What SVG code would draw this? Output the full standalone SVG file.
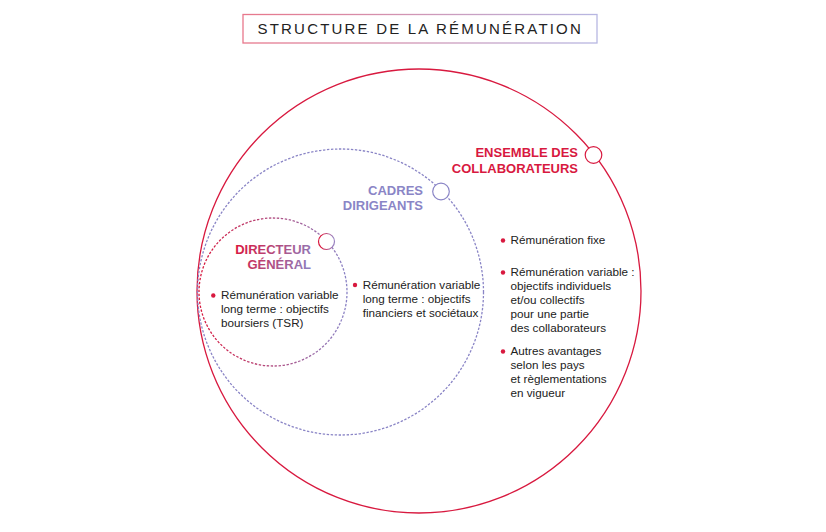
<svg xmlns="http://www.w3.org/2000/svg" width="826" height="532" viewBox="0 0 826 532">
<defs>
<linearGradient id="gTitle" gradientUnits="userSpaceOnUse" x1="243" y1="0" x2="597" y2="0">
<stop offset="0" stop-color="#e8778b"/>
<stop offset="1" stop-color="#b7b7e2"/>
</linearGradient>
<linearGradient id="gDG" gradientUnits="userSpaceOnUse" x1="200" y1="0" x2="346" y2="0">
<stop offset="0" stop-color="#d8193f"/>
<stop offset="1" stop-color="#8a83c5"/>
</linearGradient>
<linearGradient id="gMark" x1="0" y1="0" x2="1" y2="0">
<stop offset="0.2" stop-color="#d8193f"/>
<stop offset="0.9" stop-color="#9a82c0"/>
</linearGradient>
<linearGradient id="gDGText" gradientUnits="userSpaceOnUse" x1="240" y1="240" x2="312" y2="272">
<stop offset="0" stop-color="#d81a42"/>
<stop offset="1" stop-color="#8a82c4"/>
</linearGradient>
</defs>
<style>
.body{font-family:"Liberation Sans",Arial,sans-serif;font-size:11.7px;fill:#222222}
.head{font-family:"Liberation Sans",Arial,sans-serif;font-size:13px;font-weight:bold;text-anchor:end}
.red{fill:#d8193f}
.pur{fill:#8a85c6}
.bul{fill:#d8193f}
.mark{fill:#ffffff;stroke-width:1.2}
</style>
<rect width="826" height="532" fill="#ffffff"/>
<g id="title">
<rect x="243" y="14.5" width="354" height="28.5" fill="#ffffff" stroke="url(#gTitle)" stroke-width="1.3"/>
<text x="257.5" y="34" font-family="'Liberation Sans',Arial,sans-serif" font-size="15" letter-spacing="2.2" fill="#222222">STRUCTURE DE LA RÉMUNÉRATION</text>
</g>
<g id="connectors">
<circle cx="419" cy="291" r="222" fill="none" stroke="#d8193f" stroke-width="1.3"/>
<circle cx="340.5" cy="292" r="143" fill="none" stroke="#8a85c6" stroke-width="1.3" stroke-dasharray="2.4 1.6"/>
<circle cx="273" cy="292" r="74" fill="none" stroke="url(#gDG)" stroke-width="1.3" stroke-dasharray="2.4 1.6"/>
</g>
<g id="ensemble">
<circle class="mark" cx="593.5" cy="155" r="8.3" stroke="#d8193f"/>
<text class="head red" x="578" y="157">ENSEMBLE DES</text>
<text class="head red" x="578" y="172.5">COLLABORATEURS</text>
<circle class="bul" cx="503" cy="240.5" r="2.2"/>
<text class="body" x="510.5" y="244">Rémunération fixe</text>
<circle class="bul" cx="503" cy="272.5" r="2.2"/>
<text class="body" x="510.5" y="276">Rémunération variable :</text>
<text class="body" x="510.5" y="290">objectifs individuels</text>
<text class="body" x="510.5" y="304">et/ou collectifs</text>
<text class="body" x="510.5" y="318">pour une partie</text>
<text class="body" x="510.5" y="332">des collaborateurs</text>
<circle class="bul" cx="503" cy="351.5" r="2.2"/>
<text class="body" x="510.5" y="355">Autres avantages</text>
<text class="body" x="510.5" y="369">selon les pays</text>
<text class="body" x="510.5" y="383">et règlementations</text>
<text class="body" x="510.5" y="397">en vigueur</text>
</g>
<g id="cadres">
<circle class="mark" cx="441" cy="191.5" r="8.3" stroke="#8a85c6"/>
<text class="head pur" x="423" y="194.5">CADRES</text>
<text class="head pur" x="423" y="209.5">DIRIGEANTS</text>
<circle class="bul" cx="355" cy="285" r="2.2"/>
<text class="body" x="362.7" y="289">Rémunération variable</text>
<text class="body" x="362.7" y="303">long terme : objectifs</text>
<text class="body" x="362.7" y="317">financiers et sociétaux</text>
</g>
<g id="directeur">
<circle class="mark" cx="326.5" cy="241.5" r="8" stroke="url(#gMark)"/>
<text class="head" x="311" y="254" fill="url(#gDGText)">DIRECTEUR</text>
<text class="head" x="311" y="269" fill="url(#gDGText)">GÉNÉRAL</text>
<circle class="bul" cx="213.3" cy="295.5" r="2.2"/>
<text class="body" x="221" y="299">Rémunération variable</text>
<text class="body" x="221" y="313">long terme : objectifs</text>
<text class="body" x="221" y="327">boursiers (TSR)</text>
</g>
</svg>
